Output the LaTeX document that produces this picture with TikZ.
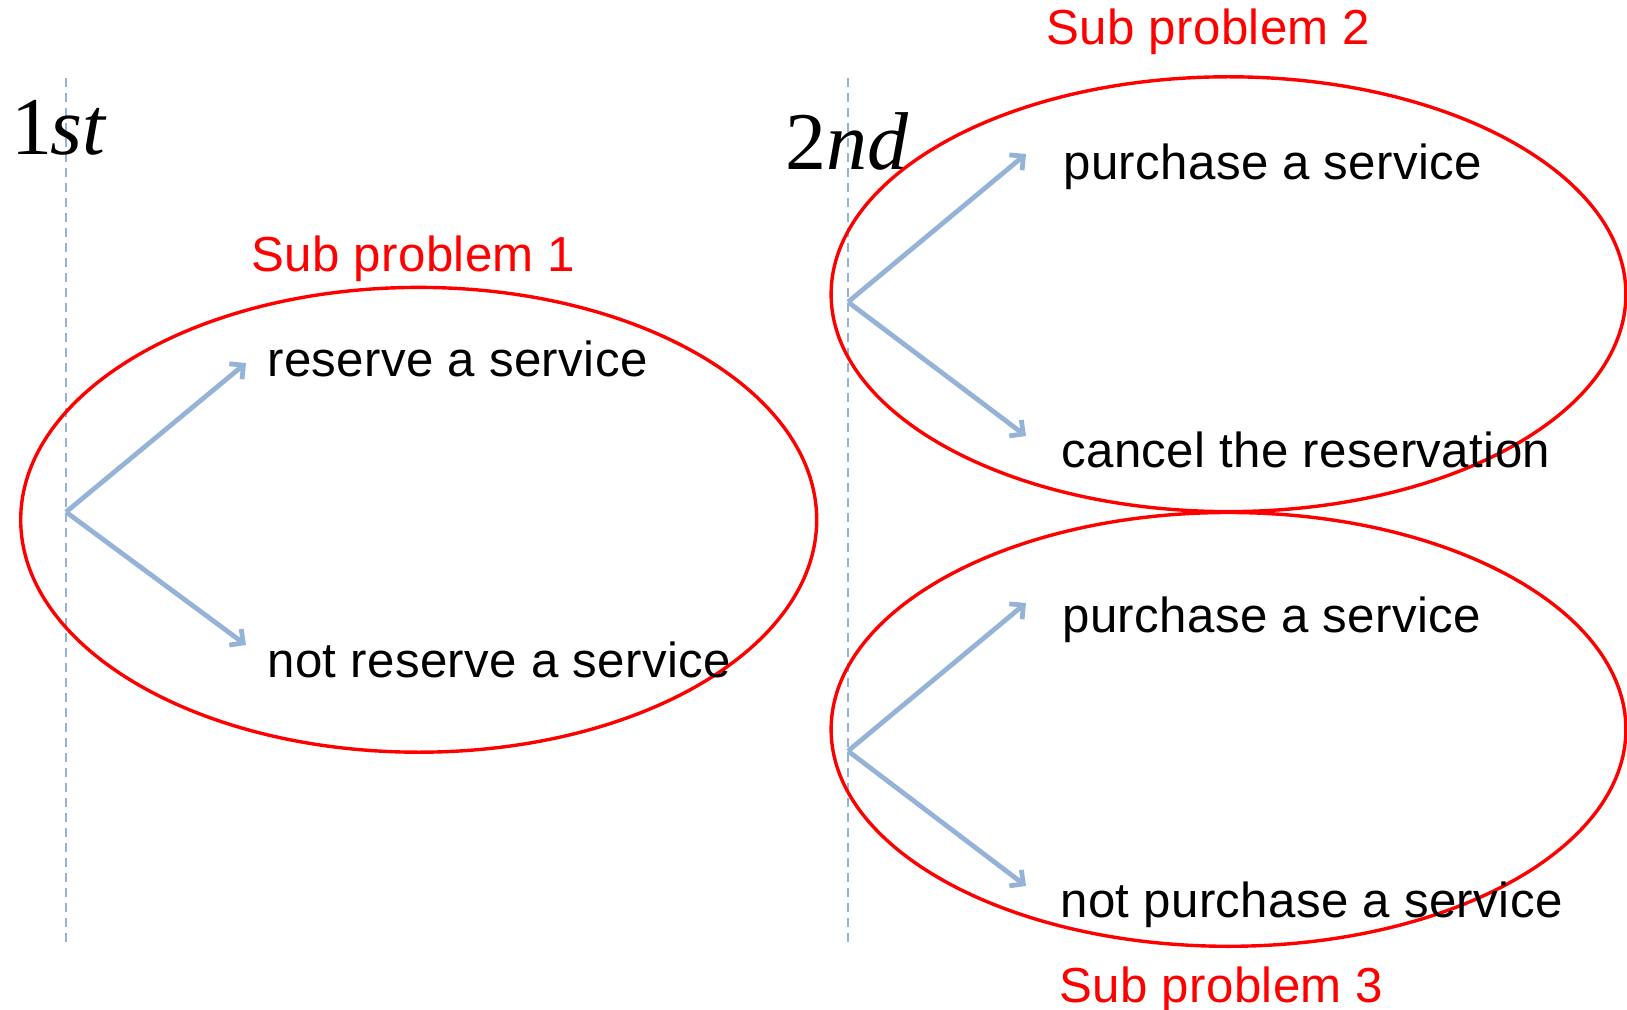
\documentclass[tikz,border=0pt]{standalone}
\usepackage{fontspec}
\setmainfont{Liberation Sans}
\newfontfamily\stagefont{Liberation Serif}
\usetikzlibrary{arrows.meta}
\definecolor{choiceblue}{RGB}{149,179,215}
\begin{document}
\begin{tikzpicture}[x=0.5pt,y=-0.5pt,
  stageline/.style={choiceblue,line width=1.1pt,dash pattern=on 4.5pt off 3pt},
  choice/.style={choiceblue,line width=2.4pt,-{Straight Barb[length=5pt,width=10pt]}},
  subloop/.style={red,line width=1.7pt},
  option/.style={anchor=base west,inner sep=0pt,font=\fontsize{24.6}{24.6}\selectfont\addfontfeature{LetterSpace=0.8}},
  sublabel/.style={option,text=red},
  stage/.style={anchor=base west,inner sep=0pt,font=\stagefont\fontsize{41}{41}\selectfont}]
\useasboundingbox (0,0) rectangle (1627,1010);
% stages
\draw[stageline] (66,78) -- (66,946);
\draw[stageline] (848,78) -- (848,946);
\node[stage] (first) at (11,155) {1\kern-1pt\textit{st}};
\node[stage] (second) at (785,170) {2\textit{nd}};
% sub problems
\draw[subloop] (418.7,519.8) ellipse [x radius=398, y radius=232.4];
\draw[subloop] (1228.5,294.2) ellipse [x radius=397.4, y radius=217.4];
\draw[subloop] (1228.5,729.4) ellipse [x radius=397.4, y radius=216.9];
\node[sublabel] (sub1) at (251,272) {Sub problem 1};
\node[sublabel] (sub2) at (1046,45) {Sub problem 2};
\node[sublabel] (sub3) at (1059,1002) {Sub problem 3};
% choices
\coordinate (o1) at (66,512);
\coordinate (o2) at (848,302);
\coordinate (o3) at (848,751);
\coordinate (r1) at (246,363);
\coordinate (r2) at (246,645);
\coordinate (p1) at (1026,154);
\coordinate (p2) at (1026,436);
\coordinate (q1) at (1026,603);
\coordinate (q2) at (1026,886);
\draw[choice] (o1) -- (r1);
\draw[choice] (o1) -- (r2);
\draw[choice] (o2) -- (p1);
\draw[choice] (o2) -- (p2);
\draw[choice] (o3) -- (q1);
\draw[choice] (o3) -- (q2);
\node[option] (reserve) at (267,377) {reserve a service};
\node[option] (noreserve) at (267,677) {not reserve a service};
\node[option] (buy1) at (1063,180) {purchase a service};
\node[option] (cancel) at (1061,467) {cancel the reservation};
\node[option] (buy2) at (1062,632) {purchase a service};
\node[option] (nobuy) at (1060,917) {not purchase a service};
\end{tikzpicture}
\end{document}
